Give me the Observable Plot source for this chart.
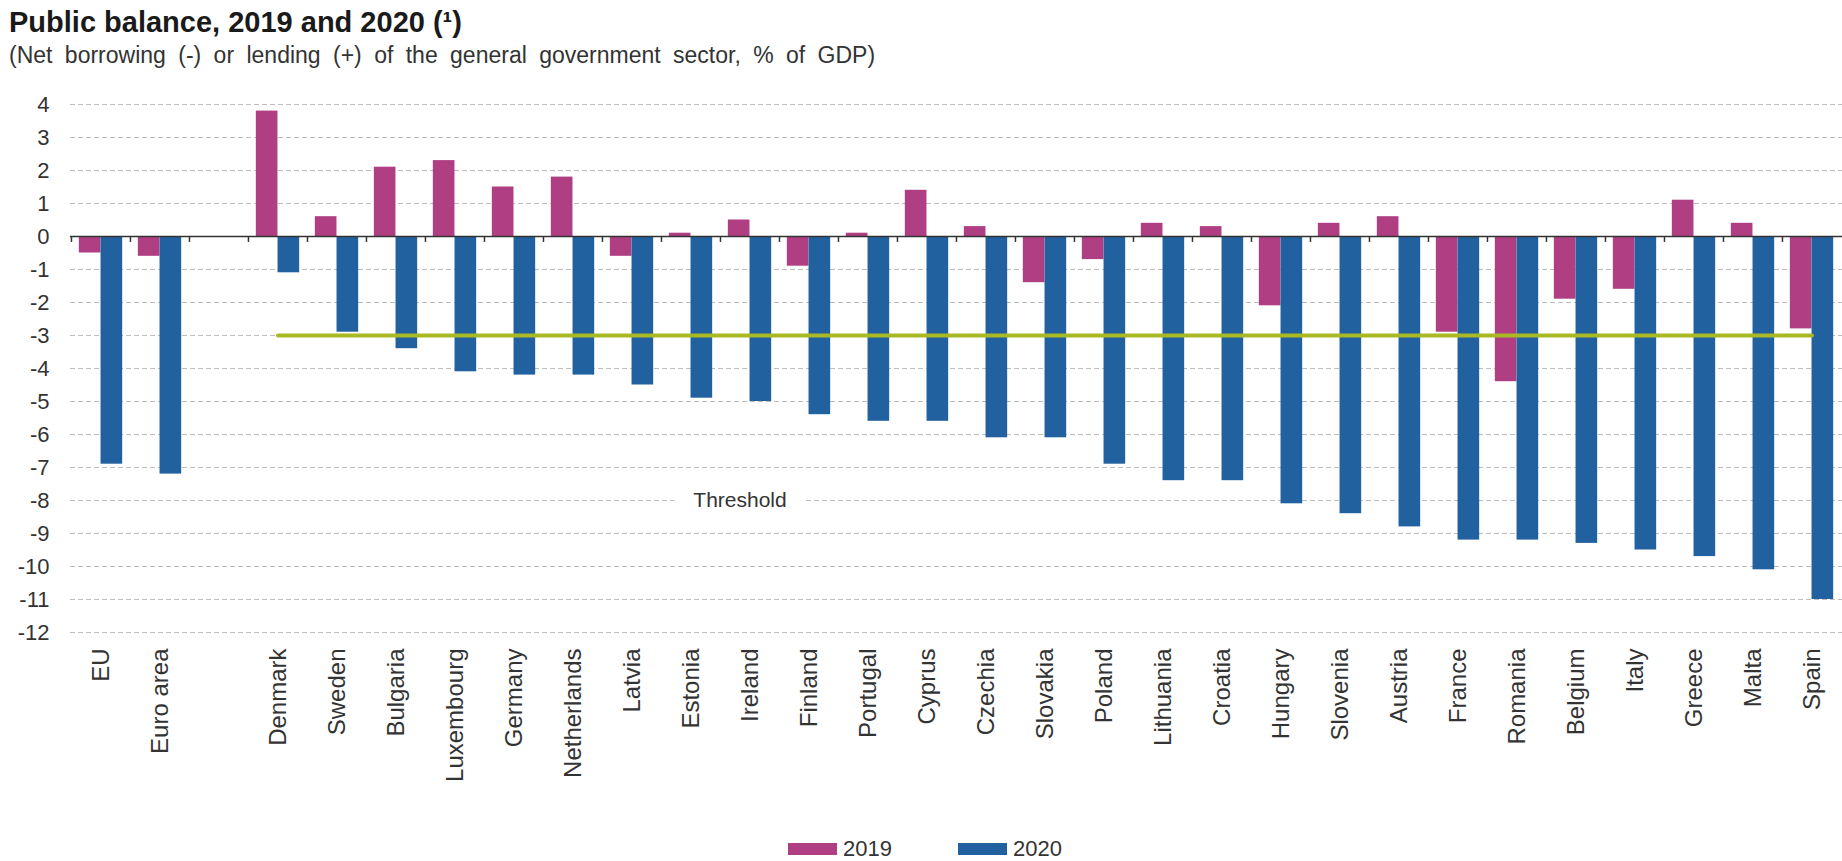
<!DOCTYPE html>
<html><head><meta charset="utf-8">
<script src="https://cdn.jsdelivr.net/npm/d3@7"></script>
<script src="https://cdn.jsdelivr.net/npm/@observablehq/plot@0.6"></script>
<style>
html,body{margin:0;padding:0;background:#fff;}
#wrap{position:relative;width:1842px;height:861px;overflow:hidden;font-family:"Liberation Sans",Arial,sans-serif;color:#222;background:#fff;}
#title{position:absolute;left:9px;top:8px;font-size:29px;line-height:29px;font-weight:bold;white-space:nowrap;color:#1a1a1a;}
#subtitle{position:absolute;left:9px;top:44px;font-size:23px;line-height:23px;word-spacing:6px;white-space:nowrap;color:#333;}
#chart{position:absolute;left:0;top:80px;}
#legend{position:absolute;left:788px;top:838px;display:flex;align-items:center;font-size:22px;line-height:22px;color:#333;}
.item{display:flex;align-items:center;margin-right:66px;}
.sw{width:49px;height:12px;margin-right:6px;}
</style></head><body>
<div id="wrap">
  <div id="title">Public balance, 2019 and 2020 (¹)</div>
  <div id="subtitle">(Net borrowing (-) or lending (+) of the general government sector, % of GDP)</div>
  <div id="chart"></div>
  <div id="legend"></div>
</div>
<script>
// ---- data ----
const countries = ["EU","Euro area","","Denmark","Sweden","Bulgaria","Luxembourg","Germany","Netherlands","Latvia","Estonia","Ireland","Finland","Portugal","Cyprus","Czechia","Slovakia","Poland","Lithuania","Croatia","Hungary","Slovenia","Austria","France","Romania","Belgium","Italy","Greece","Malta","Spain"];
const years = ["2019","2020"];
const values2019 = [-0.5,-0.6,null,3.8,0.6,2.1,2.3,1.5,1.8,-0.6,0.1,0.5,-0.9,0.1,1.4,0.3,-1.4,-0.7,0.4,0.3,-2.1,0.4,0.6,-2.9,-4.4,-1.9,-1.6,1.1,0.4,-2.8];
const values2020 = [-6.9,-7.2,null,-1.1,-2.9,-3.4,-4.1,-4.2,-4.2,-4.5,-4.9,-5.0,-5.4,-5.6,-5.6,-6.1,-6.1,-6.9,-7.4,-7.4,-8.1,-8.4,-8.8,-9.2,-9.2,-9.3,-9.5,-9.7,-10.1,-11.0];
const yTicks = [4,3,2,1,0,-1,-2,-3,-4,-5,-6,-7,-8,-9,-10,-11,-12];
const thresholdValue = -3;
const thresholdCountries = ["Denmark","Spain"];
const thresholdLabel = "Threshold";
const thresholdLabelCountry = "Ireland";
const thresholdLabelValue = -8;
const colors = ["#b03e82","#2261a0"];
const thresholdColor = "#a8b923";

// ---- tables ----
const seriesValues = [values2019, values2020];
const rows = years.flatMap((yr, k) => countries.map((c, i) => ({country: c, year: yr, value: seriesValues[k][i]})))
  .filter(d => d.country !== "" && d.value != null);
const thresholdRows = thresholdCountries.map(c => ({country: c, value: thresholdValue}));
const labelRows = [{country: thresholdLabelCountry, value: thresholdLabelValue, label: thresholdLabel}];

// ---- layout ----
const W = 1842, ML = 70, MR = 0, MT = 24, PH = 528, MB = 168;
const bw = (W - ML - MR) / countries.length;
const barW = 21.7;
const pad = (bw - 2 * barW) / 2;

const chart = Plot.plot({
  width: W, height: MT + PH + MB,
  marginLeft: ML, marginRight: MR, marginTop: MT, marginBottom: MB,
  style: {fontFamily: '"Liberation Sans", Arial, sans-serif', color: "#333", background: "white", overflow: "visible"},
  x: {domain: countries, padding: 0, axis: null, label: null},
  y: {domain: [-12, 4], axis: null, label: null},
  marks: [
    Plot.ruleY(yTicks.filter(d => d !== 0), {stroke: "#bdbdbd", strokeDasharray: "5,3", strokeWidth: 1}),
    Plot.text(labelRows, {x: "country", y: "value", text: "label", fontSize: 21, fill: "#333", stroke: "white", strokeWidth: 40, strokeLinejoin: "round", paintOrder: "stroke", dx: -10}),
    Plot.barY(rows.filter(d => d.year === years[0]), {x: "country", y: "value", fill: colors[0], insetLeft: pad, insetRight: bw - pad - barW}),
    Plot.barY(rows.filter(d => d.year === years[1]), {x: "country", y: "value", fill: colors[1], insetLeft: pad + barW, insetRight: pad}),
    Plot.line(thresholdRows, {x: "country", y: "value", stroke: thresholdColor, strokeWidth: 4}),
    Plot.ruleY([0], {stroke: "#333", strokeWidth: 1.5}),
    Plot.ruleX(countries, {x: d => d, y1: 0, y2: -0.18, dx: -bw / 2, stroke: "#333", strokeWidth: 1.5}),
    Plot.axisY({ticks: yTicks, tickSize: 0, tickPadding: 21, fontSize: 22, label: null, tickFormat: d => String(d)}),
    Plot.axisX({tickSize: 0, tickRotate: -90, tickPadding: 16, fontSize: 24, label: null, tickFormat: d => d})
  ]
});
document.getElementById("chart").appendChild(chart);

// ---- legend ----
const legend = document.getElementById("legend");
years.forEach((yr, k) => {
  const item = document.createElement("div");
  item.className = "item";
  const sw = document.createElement("div");
  sw.className = "sw";
  sw.style.background = colors[k];
  const t = document.createElement("span");
  t.textContent = yr;
  item.appendChild(sw); item.appendChild(t);
  legend.appendChild(item);
});
</script>
</body></html>
